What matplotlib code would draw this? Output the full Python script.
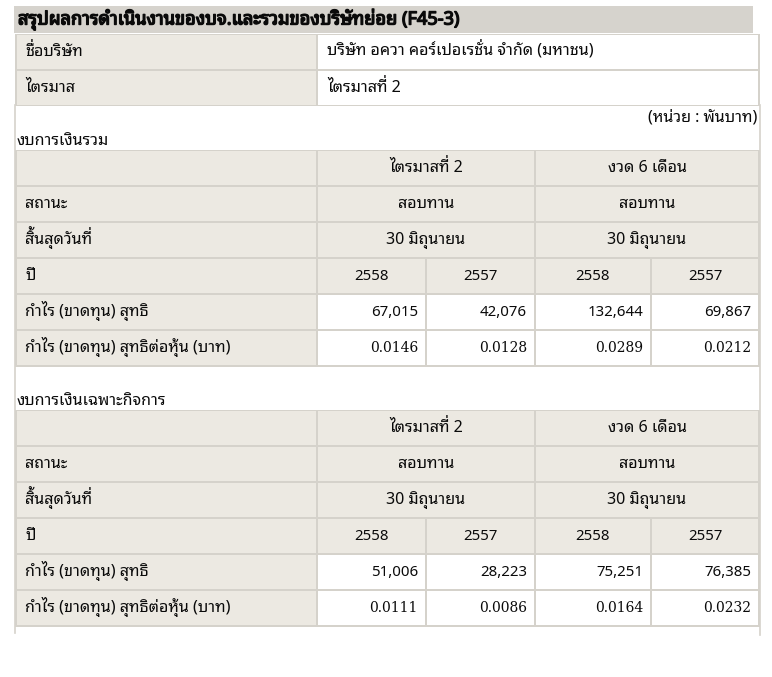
import matplotlib
matplotlib.use("Agg")
import matplotlib.pyplot as plt
import matplotlib.patheffects as pe
from matplotlib import font_manager
from matplotlib.font_manager import FontProperties
from matplotlib.ft2font import FT2Font
from matplotlib.patches import Rectangle

# ---- data ----------------------------------------------------------------- #
TITLE = "สรุปผลการดำเนินงานของบจ.และรวมของบริษัทย่อย (F45-3)"
INFO_LABELS = ["ชื่อบริษัท", "ไตรมาส"]
INFO_VALUES = ["บริษัท อควา คอร์เปอเรชั่น จำกัด (มหาชน)", "ไตรมาสที่ 2"]
UNIT = "(หน่วย : พันบาท)"

SECTIONS = ["งบการเงินรวม", "งบการเงินเฉพาะกิจการ"]
ROW_LABELS = ["", "สถานะ", "สิ้นสุดวันที่", "ปี",
              "กำไร (ขาดทุน) สุทธิ", "กำไร (ขาดทุน) สุทธิต่อหุ้น (บาท)"]
PERIODS = ["ไตรมาสที่ 2", "งวด 6 เดือน"]
STATUS = ["สอบทาน", "สอบทาน"]
END_DATE = ["30 มิถุนายน", "30 มิถุนายน"]
YEARS = ["2558", "2557", "2558", "2557"]

NET_PROFIT = {
    "งบการเงินรวม": [67015, 42076, 132644, 69867],
    "งบการเงินเฉพาะกิจการ": [51006, 28223, 75251, 76385],
}
EPS = {
    "งบการเงินรวม": [0.0146, 0.0128, 0.0289, 0.0212],
    "งบการเงินเฉพาะกิจการ": [0.0111, 0.0086, 0.0164, 0.0232],
}

# ---- styling -------------------------------------------------------------- #
BORDER = "#d5d2cb"
CELL = "#ece9e2"
TITLE_BG = "#d6d3cd"
TEXT = "#0a0a0a"

UPPER = set("\u0e31\u0e34\u0e35\u0e36\u0e37\u0e47")
TONES = set("\u0e48\u0e49\u0e4a\u0e4b\u0e4c")


def thai_font():
    """Pick an installed family with Thai glyphs (looped style preferred)."""
    prefer = ["Tahoma", "Noto Sans Thai Looped", "IBM Plex Sans Thai Looped",
              "Sarabun", "Noto Sans Thai", "Noto Sans Thai UI", "Loma",
              "Garuda", "Anuphan"]
    found = {}
    for f in font_manager.fontManager.ttflist:
        if f.name in found:
            continue
        try:
            if 0x0E01 in FT2Font(f.fname).get_charmap():
                found[f.name] = f.fname
        except Exception:
            pass
    for p in prefer:
        if p in found:
            return p
    return sorted(found)[0] if found else "DejaVu Sans"


THAI = thai_font()
FONT = [THAI, "Noto Sans", "DejaVu Sans"]
plt.rcParams["font.family"] = FONT
THAI_PATH = font_manager.findfont(FontProperties(family=THAI))

W, H = 772, 677
fig = plt.figure(figsize=(W / 100, H / 100), dpi=100)
ax = fig.add_axes([0, 0, 1, 1])
ax.set_xlim(0, W)
ax.set_ylim(H, 0)
ax.axis("off")
renderer = fig.canvas.get_renderer()

X0, X1 = 16, 759
COLS = [16, 317, 426, 535, 651, 759]
FS = 11.6      # thai text
FS_NUM = 10.8  # numbers


def advance(s, size):
    """Pen advance (px) of a Thai/space string, no shaping."""
    ft = FT2Font(THAI_PATH, hinting_factor=1)
    ft.set_size(size, 100)
    cmap = ft.get_charmap()
    tot = 0.0
    for ch in s:
        if ord(ch) in cmap:
            tot += ft.load_char(ord(ch)).linearHoriAdvance / 65536
    return tot


def put(x, ym, s, size=FS, ha="left", family=None):
    """Draw text centred on row middle ym. matplotlib does no Thai shaping,
    so a tone mark sitting on an upper vowel is drawn separately, raised."""
    fam = family or FONT
    prop = FontProperties(family=fam, size=size)
    base, marks = [], []
    for ch in s:
        if ch in TONES and base and base[-1] in UPPER:
            marks.append((len(base), ch))
        else:
            base.append(ch)
    base = "".join(base)
    w, _, _ = renderer.get_text_width_height_descent(base, prop, ismath=False)
    _, lh, ld = renderer.get_text_width_height_descent("lp", prop, ismath=False)
    yb = ym + lh / 2 - ld
    xl = {"left": x, "center": x - w / 2, "right": x - w}[ha]
    ax.text(xl, yb, base, fontproperties=prop, color=TEXT, ha="left", va="baseline")
    dy = 0.27 * size * 100 / 72
    sp = advance(" ", size)
    for idx, ch in marks:
        # mark carried by a space so the text has a real advance
        ax.text(xl + advance(base[:idx], size) - sp, yb - dy, " " + ch,
                fontproperties=prop, color=TEXT, ha="left", va="baseline")


def cell(x0, y0, x1, y1, color):
    ax.add_patch(Rectangle((x0 + 1, y0 + 1), x1 - x0 - 2, y1 - y0 - 2,
                           facecolor=color, edgecolor="none"))


# title bar (stroke to thicken, like the bold web font)
ax.add_patch(Rectangle((14, 6), 739, 27, facecolor=TITLE_BG, edgecolor="none"))
ax.text(18, 20, TITLE, fontsize=13.1, color=TEXT, va="center",
        path_effects=[pe.withStroke(linewidth=1.0, foreground=TEXT)])

# frame lines
ax.plot([15, 15], [105, 633], color=BORDER, lw=1.2)
ax.plot([760, 760], [105, 635], color=BORDER, lw=1.2)

# info rows
info_y = [34, 70, 106]
ax.add_patch(Rectangle((X0 - 1, info_y[0]), X1 - X0 + 2, info_y[-1] - info_y[0],
                       facecolor=BORDER, edgecolor="none"))
for i, (lab, val) in enumerate(zip(INFO_LABELS, INFO_VALUES)):
    y0, y1 = info_y[i], info_y[i + 1]
    cell(COLS[0], y0, COLS[1], y1, CELL)
    cell(COLS[1], y0, X1, y1, "white")
    ym = (y0 + y1) / 2
    put(COLS[0] + 9, ym, lab)
    put(COLS[1] + 10, ym, val)

put(757, 118, UNIT, ha="right")

section_top = [150, 410]
section_label_y = [141, 402]
ROW_H = 36

for s, name in enumerate(SECTIONS):
    top = section_top[s]
    edges = [top + ROW_H * k for k in range(len(ROW_LABELS) + 1)]
    put(17, section_label_y[s], name)
    ax.add_patch(Rectangle((X0 - 1, edges[0]), X1 - X0 + 2, edges[-1] - edges[0] + 1,
                           facecolor=BORDER, edgecolor="none"))
    for r, lab in enumerate(ROW_LABELS):
        y0, y1 = edges[r], edges[r + 1]
        ym = (y0 + y1) / 2
        cell(COLS[0], y0, COLS[1], y1, CELL)
        if lab:
            put(COLS[0] + 9, ym, lab)
        if r < 3:
            texts = [PERIODS, STATUS, END_DATE][r]
            for g, t in enumerate(texts):
                gx0, gx1 = COLS[1 + 2 * g], COLS[3 + 2 * g]
                cell(gx0, y0, gx1, y1, CELL)
                put((gx0 + gx1) / 2, ym, t, ha="center")
        elif r == 3:
            for c, t in enumerate(YEARS):
                cell(COLS[1 + c], y0, COLS[2 + c], y1, CELL)
                put((COLS[1 + c] + COLS[2 + c]) / 2, ym, t, size=FS_NUM, ha="center")
        elif r == 4:
            for c, v in enumerate(NET_PROFIT[name]):
                cell(COLS[1 + c], y0, COLS[2 + c], y1, "white")
                put(COLS[2 + c] - 8, ym, f"{v:,}", size=FS_NUM, ha="right")
        else:
            for c, v in enumerate(EPS[name]):
                cell(COLS[1 + c], y0, COLS[2 + c], y1, "white")
                put(COLS[2 + c] - 8, ym, f"{v:.4f}", size=10, ha="right",
                    family=["DejaVu Serif"])

fig.savefig("out.png", dpi=100)
